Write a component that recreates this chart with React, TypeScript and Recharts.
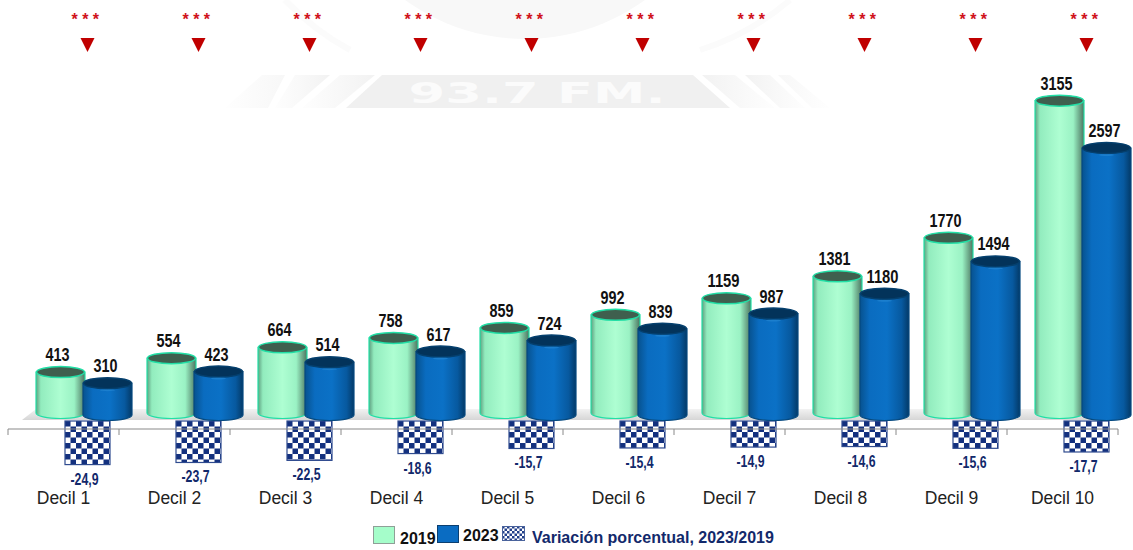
import React from "react";
import { ComposedChart, Bar, XAxis, YAxis, LabelList, Legend, ReferenceLine } from "recharts";

const categories = ["Decil 1", "Decil 2", "Decil 3", "Decil 4", "Decil 5", "Decil 6", "Decil 7", "Decil 8", "Decil 9", "Decil 10"];
const values2019 = [413, 554, 664, 758, 859, 992, 1159, 1381, 1770, 3155];
const values2023 = [310, 423, 514, 617, 724, 839, 987, 1180, 1494, 2597];
const variation = [-24.9, -23.7, -22.5, -18.6, -15.7, -15.4, -14.9, -14.6, -15.6, -17.7];
const significance = ["***", "***", "***", "***", "***", "***", "***", "***", "***", "***"];

const data = categories.map((c, i) => ({ c, y2019: values2019[i], y2023: values2023[i], v: variation[i], s: significance[i] }));

const BAND = 111;
const SHIFT = 20;
const VSHIFT = 24;
const SANS = '"Liberation Sans", Arial, sans-serif';

function Cylinder(props: any) {
  const { x, y, width, height, grad, top, edge, topEdge, dark } = props;
  const rx = width / 2;
  const ry = 5.5;
  const X = x + SHIFT;
  const body = `M${X},${y} L${X},${y + height} A${rx},${ry} 0 0 0 ${X + width},${y + height} L${X + width},${y} Z`;
  return (
    <g>
      <path d={body} fill={`url(#${grad})`} stroke={edge} strokeWidth={1.2} />
      <ellipse cx={X + rx} cy={y} rx={rx - 0.5} ry={ry} fill={top} stroke={topEdge} strokeWidth={1.5} />
      {dark ? <ellipse cx={X + rx} cy={y + 7} rx={rx * 0.3} ry={1} fill="#2b8ed8" opacity={0.5} /> : null}
    </g>
  );
}

function CheckBox(props: any) {
  const { x, y, width, height } = props;
  const top = Math.min(y, y + height);
  return (
    <g transform={`translate(${x + VSHIFT},${top})`}>
      <rect x={0} y={0} width={width} height={Math.abs(height)} fill="url(#checker)" stroke="#2f4b8f" strokeWidth={1.2} />
    </g>
  );
}

const valueLabel = (shift: number) => (p: any) => (
  <text x={p.x + p.width / 2 + shift} y={p.y - 11} textAnchor="middle" fontFamily={SANS} fontWeight={700} fontSize={18}
    fill="#111" textLength={String(p.value).length * 8} lengthAdjust="spacingAndGlyphs">
    {p.value}
  </text>
);

const varLabel = (p: any) => {
  const bottom = Math.max(p.y, p.y + p.height);
  return (
    <text x={p.x + p.width / 2 + VSHIFT - 3} y={bottom + 20} textAnchor="middle" fontFamily={SANS} fontWeight={700} fontSize={16}
      fill="#12296b" textLength={28} lengthAdjust="spacingAndGlyphs">
      {Number(p.value).toFixed(1).replace(".", ",")}
    </text>
  );
};

function BottomTick(props: any) {
  const { x, payload, index } = props;
  return (
    <g>
      <line x1={x - BAND / 2} x2={x - BAND / 2} y1={429} y2={435} stroke="#8a8a8a" strokeWidth={1} />
      {index === categories.length - 1 ? <line x1={x + BAND / 2} x2={x + BAND / 2} y1={429} y2={435} stroke="#8a8a8a" /> : null}
      <text x={x} y={504} textAnchor="middle" fontFamily={SANS} fontSize={17.5} fill="#222">
        {payload.value}
      </text>
    </g>
  );
}

function TopTick(props: any) {
  const { x, payload } = props;
  const cx = x + VSHIFT;
  return (
    <g>
      <text x={cx} y={25} textAnchor="middle" fontFamily={SANS} fontSize={16} fontWeight={700} letterSpacing={4.5} fill="#d0121b">
        {payload.value}
      </text>
      <path d={`M${cx - 7},38 L${cx + 7},38 L${cx},52 Z`} fill="#c00000" />
    </g>
  );
}

function LegendBox() {
  const sw = (left: number, bg: string, border: string, w = 22, h = 18, top = 526) => (
    <div style={{ position: "absolute", left, top, width: w, height: h, background: bg, border: `1px solid ${border}`, boxSizing: "border-box" }} />
  );
  const txt = (left: number, top: number, s: string, color: string, size: number) => (
    <span style={{ position: "absolute", left, top, font: `700 ${size}px ${SANS}`, color, whiteSpace: "nowrap", lineHeight: "18px" }}>{s}</span>
  );
  return (
    <div style={{ position: "absolute", left: 0, top: 0, width: 0, height: 0 }}>
      {sw(373, "#a5fdca", "#8f9f97")}
      {txt(400, 530, "2019", "#111", 16)}
      {sw(437, "#0a6cc2", "#0b3f70", 22, 18, 525)}
      {txt(463, 527, "2023", "#111", 16)}
      <svg style={{ position: "absolute", left: 502, top: 526 }} width={23} height={15}>
        <defs>
          <pattern id="legendCheck" width="5" height="5" patternUnits="userSpaceOnUse">
            <rect width="5" height="5" fill="#fff" />
            <rect width="2.5" height="2.5" fill="#23408a" />
            <rect x="2.5" y="2.5" width="2.5" height="2.5" fill="#23408a" />
          </pattern>
        </defs>
        <rect x="0.5" y="0.5" width="22" height="14" fill="url(#legendCheck)" stroke="#4a639c" />
      </svg>
      {txt(532, 529, "Variación porcentual, 2023/2019", "#12296b", 16)}
    </div>
  );
}

function Watermark() {
  return (
    <svg width={1133} height={550} style={{ position: "absolute", left: 0, top: 0 }}>
      <defs>
        <linearGradient id="stripeL" x1="0" x2="1" y1="0" y2="0">
          <stop offset="0" stopColor="#f3f3f3" stopOpacity={0.1} />
          <stop offset="1" stopColor="#f2f2f2" />
        </linearGradient>
        <linearGradient id="stripeR" x1="0" x2="1" y1="0" y2="0">
          <stop offset="0" stopColor="#f2f2f2" />
          <stop offset="1" stopColor="#f3f3f3" stopOpacity={0.1} />
        </linearGradient>
        <linearGradient id="floor" x1="0" x2="0" y1="0" y2="1">
          <stop offset="0" stopColor="#f2f2f2" />
          <stop offset="1" stopColor="#d6d6d6" />
        </linearGradient>
      </defs>
      <circle cx={525} cy={-165} r={204} fill="#f8f8f8" />
      <path d="M285,0 A260,260 0 0 0 350,50" fill="none" stroke="#fbfbfb" strokeWidth={6} />
      <path d="M790,0 A260,260 0 0 1 700,50" fill="none" stroke="#fbfbfb" strokeWidth={6} />
      <path d="M382,75 L693,75 L730,108 L346,108 Z" fill="#f0f0f0" />
      <path d="M340,75 L375,75 L335,108 L302,108 Z" fill="url(#stripeL)" />
      <path d="M295,75 L330,75 L292,108 L275,108 Z" fill="url(#stripeL)" />
      <path d="M262,75 L285,75 L268,108 L225,108 Z" fill="url(#stripeL)" opacity={0.6} />
      <path d="M702,75 L735,75 L775,108 L740,108 Z" fill="url(#stripeR)" />
      <path d="M745,75 L770,75 L805,108 L780,108 Z" fill="url(#stripeR)" />
      <path d="M778,75 L790,75 L830,108 L812,108 Z" fill="url(#stripeR)" opacity={0.6} />
      <text x={537} y={103} textAnchor="middle" fontFamily='"DejaVu Sans", sans-serif' fontWeight={700} fontSize={28} textLength={257} lengthAdjust="spacingAndGlyphs" fill="#fbfbfb">93.7 FM.</text>
      <path d="M36,409 L1130,409 L1120,420 L22,420 Z" fill="url(#floor)" />
    </svg>
  );
}

export default function App() {
  return (
    <div style={{ position: "absolute", left: 0, top: 0, width: 1133, height: 550, background: "#fff" }}>
      <Watermark />
      <div style={{ position: "absolute", left: 0, top: 0 }}>
        <ComposedChart
          width={1133}
          height={550}
          data={data}
          margin={{ top: 0, right: 15, bottom: 0, left: 8 }}
          barGap={-2}
          style={{ background: "transparent" }}
        >
          <defs>
            <linearGradient id="g2019" x1="0" x2="1" y1="0" y2="0">
              <stop offset="0" stopColor="#5f9f80" />
              <stop offset="0.1" stopColor="#92ecbe" />
              <stop offset="0.5" stopColor="#aefed2" />
              <stop offset="0.78" stopColor="#9af2c4" />
              <stop offset="1" stopColor="#4c7460" />
            </linearGradient>
            <linearGradient id="g2023" x1="0" x2="1" y1="0" y2="0">
              <stop offset="0" stopColor="#07528f" />
              <stop offset="0.2" stopColor="#0a6cc0" />
              <stop offset="0.55" stopColor="#0b71c6" />
              <stop offset="0.85" stopColor="#07599f" />
              <stop offset="1" stopColor="#033a68" />
            </linearGradient>
            <pattern id="checker" width="11" height="11" patternUnits="userSpaceOnUse">
              <rect width="11" height="11" fill="#fff" />
              <rect width="5.5" height="5.5" fill="#13307e" />
              <rect x="5.5" y="5.5" width="5.5" height="5.5" fill="#13307e" />
            </pattern>
          </defs>
          <XAxis dataKey="c" xAxisId="main" interval={0} height={50} axisLine={false} tickLine={false} tick={<BottomTick />} />
          <XAxis dataKey="c" xAxisId="var" hide />
          <XAxis dataKey="s" xAxisId="top" orientation="top" interval={0} height={60} axisLine={false} tickLine={false} tick={<TopTick />} allowDuplicatedCategory />
          <YAxis yAxisId="a" hide domain={[-878.8, 3565.7]} />
          <YAxis yAxisId="b" hide domain={[-826.8, 3453]} />
          <YAxis yAxisId="v" hide domain={[-45.14, 206.3]} />
          <ReferenceLine y={-161.6} yAxisId="a" xAxisId="main" stroke="#8a8a8a" strokeWidth={1.2} />
          <Bar dataKey="v" name="Variación porcentual, 2023/2019" xAxisId="var" yAxisId="v" barSize={45} isAnimationActive={false} shape={<CheckBox />}>
            <LabelList dataKey="v" content={varLabel} />
          </Bar>
          <Bar dataKey="y2019" name="2019" xAxisId="main" yAxisId="a" barSize={49} isAnimationActive={false}
            shape={<Cylinder grad="g2019" top="#3f5f4e" edge="#22dfa6" topEdge="#22dfa6" />}>
            <LabelList dataKey="y2019" content={valueLabel(SHIFT - 3)} />
          </Bar>
          <Bar dataKey="y2023" name="2023" xAxisId="main" yAxisId="b" barSize={49} isAnimationActive={false}
            shape={<Cylinder grad="g2023" top="#03335a" edge="#064a80" topEdge="#05406e" dark />}>
            <LabelList dataKey="y2023" content={valueLabel(SHIFT - 2)} />
          </Bar>
          <Legend content={<LegendBox />} wrapperStyle={{ position: "absolute", left: 0, top: 0, width: 0, height: 0 }} />
        </ComposedChart>
      </div>
    </div>
  );
}
